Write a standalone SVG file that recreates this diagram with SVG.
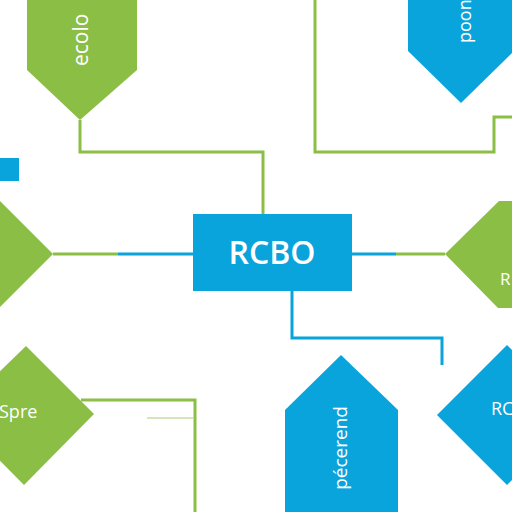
<svg xmlns="http://www.w3.org/2000/svg" width="512" height="512" viewBox="0 0 512 512">
<style>
.g{fill:#8bbe45}
.b{fill:#0aa4dd}
.lg{fill:none;stroke:#8bbe45;stroke-width:3}
.lb{fill:none;stroke:#0aa4dd;stroke-width:3}
.t{fill:#ffffff;font-family:"Open Sans","Liberation Sans",sans-serif}
</style>
<rect width="512" height="512" fill="#ffffff"/>
<g id="connectors">
<path class="lg" d="M80,120 V152 H263 V214"/>
<path class="lg" d="M315,0 V152 H494 V117 H512"/>
<path class="lg" d="M53,254 H118"/>
<path class="lb" d="M118,254 H193"/>
<path class="lb" d="M352,254 H396"/>
<path class="lg" d="M396,254 H445"/>
<path class="lb" d="M292,290 V338 H442 V365"/>
<path class="lg" d="M81,400 H195 V512"/>
<path fill="none" stroke="#8bbe45" stroke-width="1.5" opacity="0.5" d="M147,418 H193"/>
</g>
<g id="node-eco">
<polygon class="g" points="27,-5 27,70 80,120 137,70 137,-5"/>
<text class="t" font-size="21" text-anchor="start" transform="translate(88,66) rotate(-90)">ecolo</text>
</g>
<g id="node-poon">
<polygon class="b" points="408,-5 408,51 461,103 514,51 514,-5"/>
<text class="t" font-size="18" text-anchor="start" transform="translate(471,43) rotate(-90)">poon</text>
</g>
<g id="node-square">
<rect class="b" x="0" y="158" width="19" height="23"/>
</g>
<g id="node-left-diamond">
<polygon class="g" points="53,254 0,201 -53,254 0,307"/>
</g>
<g id="node-rcbo">
<rect class="b" x="193" y="214" width="159" height="77"/>
<text class="t" font-size="32" font-weight="600" text-anchor="middle" x="272" y="264">RCBO</text>
</g>
<g id="node-right-green">
<polygon class="g" points="445,254 499,201 520,201 520,308 498,308"/>
<text class="t" font-size="17" x="500" y="285">R</text>
</g>
<g id="node-spre">
<polygon class="g" points="26,346 94,414 24,485 -45,415"/>
<text class="t" font-size="18" x="-1" y="418">Spre</text>
</g>
<g id="node-pecerend">
<polygon class="b" points="285,410 341,355 398,410 398,520 285,520"/>
<text class="t" font-size="19" text-anchor="end" transform="translate(347,406) rotate(-90)">pécerend</text>
</g>
<g id="node-rc">
<polygon class="b" points="437,415 507,345 577,415 507,485"/>
<text class="t" font-size="18" x="491" y="415">RC</text>
</g>
</svg>
